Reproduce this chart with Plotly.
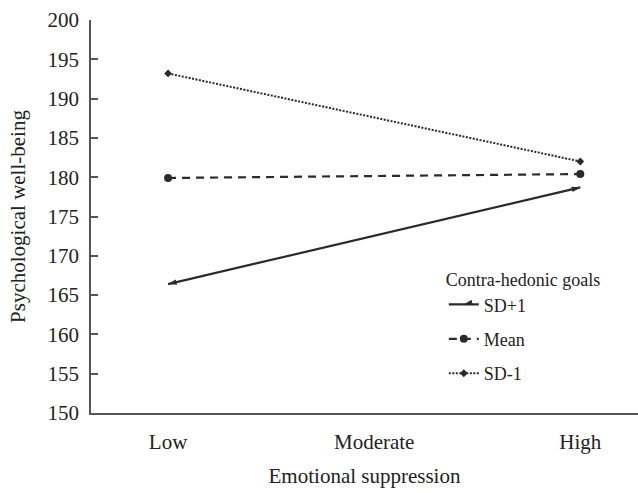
import math
import plotly.graph_objects as go

categories = ["Low", "Moderate", "High"]
x_points = ["Low", "High"]
sd_plus = [166.4, 178.7]
mean_vals = [179.9, 180.4]
sd_minus = [193.2, 182.0]
series_names = ["SD+1", "Mean", "SD-1"]
y_ticks = [150, 155, 160, 165, 170, 175, 180, 185, 190, 195, 200]

FONT = "Liberation Serif"
LINE = "#2a2a2a"

# plot geometry (px) used for arrow orientation
W, H = 547, 393
x_range = [-0.374, 2.28]
y_range = [150, 200]
px_x = W / (x_range[1] - x_range[0])
px_y = H / (y_range[1] - y_range[0])
dx = (categories.index(x_points[1]) - categories.index(x_points[0])) * px_x
dy = (sd_plus[1] - sd_plus[0]) * px_y
ang = math.degrees(math.atan2(dy, dx))
arrow_angles = [270 - ang, 90 - ang]

fig = go.Figure()
fig.add_trace(go.Scatter(
    x=x_points, y=sd_plus, name=series_names[0], mode="lines+markers",
    legendgroup="a",
    line=dict(color=LINE, width=2.2, dash="solid"),
    marker=dict(symbol="arrow", size=9, angle=arrow_angles, color=LINE),
))
fig.add_trace(go.Scatter(
    x=x_points, y=mean_vals, name=series_names[1], mode="lines+markers",
    legendgroup="b",
    line=dict(color=LINE, width=2.2, dash="8px,6px"),
    marker=dict(symbol="circle", size=8, color=LINE),
))
fig.add_trace(go.Scatter(
    x=x_points, y=sd_minus, name=series_names[2], mode="lines+markers",
    legendgroup="c",
    line=dict(color=LINE, width=2, dash="2px,1.5px"),
    marker=dict(symbol="diamond", size=6, color=LINE),
))

fig.update_layout(
    width=638, height=493,
    margin=dict(l=91, r=0, t=20, b=80),
    paper_bgcolor="white", plot_bgcolor="white",
    font=dict(family=FONT, size=21, color="#222"),
    showlegend=True,
    legend=dict(
        x=0.645, y=0.382, xanchor="left", yanchor="top",
        title=dict(text="Contra-hedonic goals", font=dict(size=18)),
        font=dict(size=18),
        tracegroupgap=8,
        itemwidth=30,
        bgcolor="rgba(0,0,0,0)",
    ),
    xaxis=dict(
        type="category", categoryorder="array", categoryarray=categories,
        range=x_range, showline=True, linecolor="#555", linewidth=1.5,
        ticks="", showgrid=False, zeroline=False, automargin=False,
        ticklabelstandoff=9,
        title=dict(text="Emotional suppression", standoff=15, font=dict(size=21)),
    ),
    yaxis=dict(
        range=y_range, tickvals=y_ticks, showline=True, linecolor="#555",
        linewidth=1.5, ticks="inside", ticklen=7, tickcolor="#555", tickwidth=1.5,
        showgrid=False, zeroline=False, automargin=False,
        ticklabelstandoff=6,
        title=dict(text="Psychological well-being", standoff=16, font=dict(size=21)),
    ),
)

fig.write_html(
    "out.html",
    config={"displayModeBar": False},
    post_script="document.body.style.margin='0px';document.body.style.overflow='hidden';",
)
